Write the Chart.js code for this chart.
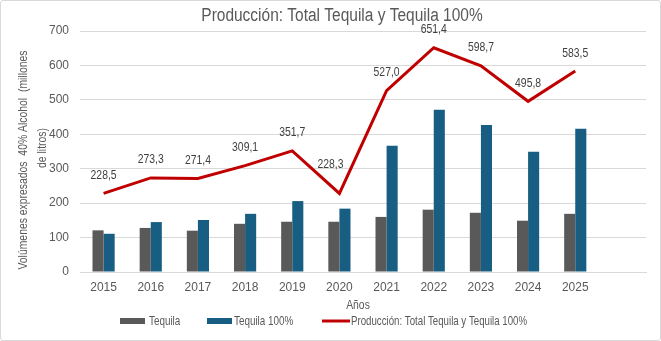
<!DOCTYPE html>
<html>
<head>
<meta charset="utf-8">
<script src="https://cdn.jsdelivr.net/npm/chart.js"></script>
<style>
  html, body { margin: 0; padding: 0; background: #fff; }
  .chart-box { width: 661px; height: 341px; box-sizing: border-box; border: 1px solid #d9d9d9; border-radius: 3px; position: relative; }
  canvas { display: block; }
</style>
</head>
<body>
<div class="chart-box"><canvas id="mainChart" width="659" height="339"></canvas></div>
<script>
// años (el último hueco sin etiqueta, como en el original)
const years = ['2015', '2016', '2017', '2018', '2019', '2020', '2021', '2022', '2023', '2024', '2025', ''];
const tequila = [121, 128, 120, 140, 146, 146, 160, 181, 172, 149, 169, null];
const tequila100 = [111, 145, 151, 169, 206, 184, 367, 471, 427, 349, 416, null];
const totalProd = [228.5, 273.3, 271.4, 309.1, 351.7, 228.3, 527.0, 651.4, 598.7, 495.8, 583.5, null];
const yTicks = [0, 100, 200, 300, 400, 500, 600, 700];

const FONT = "'Liberation Sans', Arial, sans-serif";
const TXT = '#595959';
const GRAY = '#595959';
const BLUE = '#175e82';
const RED = '#c00000';

// texto estrecho (simula Arial Narrow)
function narrowText(ctx, text, x, y, size, sx, align, rot) {
    ctx.save();
    ctx.translate(x, y);
    if (rot) ctx.rotate(rot);
    ctx.scale(sx, 1);
    ctx.font = size + 'px ' + FONT;
    ctx.textAlign = align || 'center';
    ctx.textBaseline = 'middle';
    ctx.fillText(text, 0, 0);
    ctx.restore();
}

const lineLabels = {
    id: 'lineLabels',
    afterDatasetsDraw(chart) {
        const ctx = chart.ctx;
        const meta = chart.getDatasetMeta(2);
        ctx.save();
        ctx.fillStyle = '#404040';
        meta.data.forEach(function(pt, i) {
            const v = totalProd[i];
            if (v == null) return;
            // la etiqueta de 2020 está desplazada arriba a la izquierda en el original
            const dx = i === 5 ? -9 : 0;
            const dy = i === 5 ? -29 : -18;
            narrowText(ctx, v.toFixed(1).replace('.', ','), pt.x + dx, pt.y + dy, 13, 0.8, 'center');
        });
        ctx.restore();
    }
};

const decorations = {
    id: 'decorations',
    afterDraw(chart) {
        const ctx = chart.ctx;
        const area = chart.chartArea;
        ctx.save();
        ctx.fillStyle = TXT;
        // título
        narrowText(ctx, 'Producción: Total Tequila y Tequila 100%', 341, 15, 18, 0.86, 'center');
        // título eje y
        narrowText(ctx, 'Volúmenes expresados  40% Alcohol  (millones', 22, 159, 13, 0.8, 'center', -Math.PI / 2);
        narrowText(ctx, 'de litros)', 41, 147, 13, 0.8, 'center', -Math.PI / 2);
        // título eje x
        narrowText(ctx, 'Años', (area.left + area.right) / 2 - 5, 304, 13, 0.8, 'center');
        // leyenda
        const ly = 320;
        ctx.fillStyle = GRAY;
        ctx.fillRect(119, ly - 3, 25, 6);
        ctx.fillStyle = BLUE;
        ctx.fillRect(206, ly - 3, 25, 6);
        ctx.strokeStyle = RED;
        ctx.lineWidth = 3;
        ctx.beginPath();
        ctx.moveTo(321, ly);
        ctx.lineTo(349, ly);
        ctx.stroke();
        ctx.fillStyle = TXT;
        narrowText(ctx, 'Tequila', 148, ly, 13, 0.76, 'left');
        narrowText(ctx, 'Tequila 100%', 233, ly, 13, 0.76, 'left');
        narrowText(ctx, 'Producción: Total Tequila y Tequila 100%', 350, ly, 13, 0.745, 'left');
        ctx.restore();
    }
};

new Chart(document.getElementById('mainChart'), {
    data: {
        labels: years,
        datasets: [{
            type: 'bar',
            label: 'Tequila',
            data: tequila,
            backgroundColor: GRAY,
            categoryPercentage: 0.47,
            barPercentage: 1.0
        }, {
            type: 'bar',
            label: 'Tequila 100%',
            data: tequila100,
            backgroundColor: BLUE,
            categoryPercentage: 0.47,
            barPercentage: 1.0
        }, {
            type: 'line',
            label: 'Producción: Total Tequila y Tequila 100%',
            data: totalProd,
            borderColor: RED,
            backgroundColor: RED,
            borderWidth: 3,
            pointRadius: 0,
            tension: 0
        }]
    },
    options: {
        responsive: false,
        animation: false,
        layout: { padding: { top: 30, right: 14, left: 0, bottom: 35 } },
        plugins: {
            title: { display: false },
            tooltip: { enabled: false },
            legend: { display: false }
        },
        scales: {
            x: {
                grid: { display: false },
                border: { color: '#d9d9d9' },
                ticks: { color: TXT, font: { size: 12, family: FONT }, padding: 0 },
                afterFit(scale) { scale.height = 33; }
            },
            y: {
                min: 0,
                max: 700,
                afterBuildTicks(scale) { scale.ticks = yTicks.map(v => ({ value: v })); },
                grid: { color: '#d9d9d9', tickLength: 0 },
                border: { display: false },
                ticks: { color: TXT, font: { size: 12, family: FONT }, padding: 11 },
                afterFit(scale) { scale.width = 79; }
            }
        }
    },
    plugins: [lineLabels, decorations]
});
</script>
</body>
</html>
